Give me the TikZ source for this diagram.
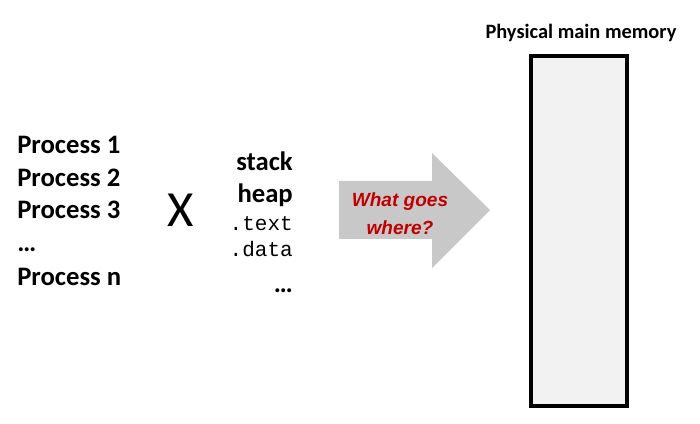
\documentclass[tikz,border=0pt]{standalone}
\usepackage{fontspec}
\setmainfont{Carlito}
\newfontfamily\arialfont{Liberation Sans}
\newfontfamily\monofont{Liberation Mono}
\definecolor{memfill}{HTML}{F2F2F2}
\definecolor{arrowgray}{HTML}{C8C8C8}
\definecolor{darkred}{HTML}{C00000}
\begin{document}
\begin{tikzpicture}[x=0.75pt,y=-0.75pt,
  proc/.style={inner sep=0pt,anchor=base west,font=\fontsize{20}{24}\selectfont\bfseries},
  seg/.style={inner sep=0pt,anchor=base east,font=\fontsize{20}{24}\selectfont\bfseries},
  monoseg/.style={inner sep=0pt,anchor=base east,font=\fontsize{15.75}{18}\selectfont\monofont},
  arrowtext/.style={inner sep=0pt,anchor=base,text=darkred,font=\fontsize{14.3}{17}\selectfont\arialfont\bfseries\itshape}]
\useasboundingbox (0,0) rectangle (700,424);
% processes
\node[proc] (p1) at (17,154) {Process 1};
\node[proc] (p2) at (17,187) {Process 2};
\node[proc] (p3) at (17,219) {Process 3};
\node[proc] (pd) at (17,252) {\ldots};
\node[proc] (pn) at (17,285) {Process n};
% times
\node[inner sep=0pt,anchor=base,font=\fontsize{38}{42}\selectfont] (x) at (181,227) {X};
% segments
\node[seg] (stack) at (293,171) {stack};
\node[seg] (heap) at (293,203) {heap};
\node[monoseg] (text) at (293,231) {.text};
\node[monoseg] (data) at (293,257) {.data};
\node[seg] (sd) at (293,292) {\ldots};
% arrow
\fill[arrowgray] (339,181) -- (432,181) -- (432,153) -- (490,210) -- (432,268) -- (432,239) -- (339,239) -- cycle;
\node[arrowtext] (w1) at (400,207) {What goes};
\node[arrowtext] (w2) at (400,234) {where?};
% memory
\node[inner sep=0pt,anchor=base,font=\fontsize{15.3}{18}\selectfont\bfseries] (memlabel) at (581,39) {Physical main memory};
\draw[line width=2.4pt,fill=memfill] (531,56) rectangle (627,406);
\end{tikzpicture}
\end{document}
